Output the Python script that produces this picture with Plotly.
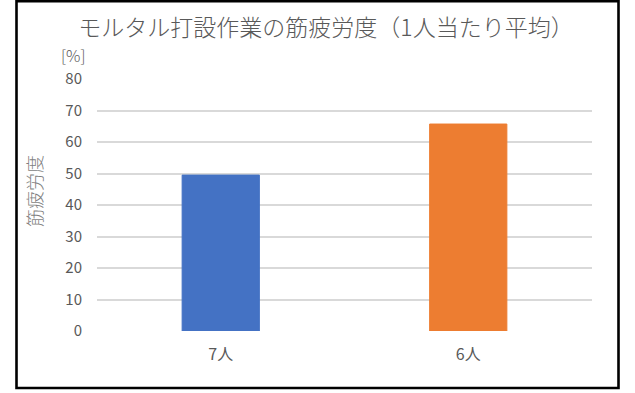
import plotly.graph_objects as go

categories = ["7人", "6人"]
values = [49.5, 65.7]
colors = ["#4472C4", "#ED7D31"]
y_ticks = [0, 10, 20, 30, 40, 50, 60, 70, 80]

FONT = "Noto Sans CJK JP"
GRAY = "#595959"

fig = go.Figure(go.Bar(
    x=categories, y=values,
    marker=dict(color=colors, line=dict(color=colors, width=1)),
    width=0.312,
))

W, H = 635, 393
L, R, T, B = 97, 43, 79, 62
pw, ph = W - L - R, H - T - B

def px_x(px):
    return (px - L) / pw

def px_y(py):
    return (H - B - py) / ph

fig.update_layout(
    width=W, height=H,
    margin=dict(l=L, r=R, t=T, b=B),
    paper_bgcolor="white", plot_bgcolor="white",
    font=dict(family=FONT, color=GRAY, size=15),
    showlegend=False,
    title=dict(text="モルタル打設作業の筋疲労度（1人当たり平均）",
               x=px_x(326), xref="paper", xanchor="center",
               y=1 - 28 / H, yref="container", yanchor="middle",
               font=dict(size=23, color=GRAY, family=FONT, weight=300)),
    xaxis=dict(showgrid=False, zeroline=False, showline=False,
               ticks="", tickfont=dict(size=16, color=GRAY),
               ticklabelstandoff=12),
    yaxis=dict(range=[0, 80], tickvals=y_ticks, showgrid=True,
               gridcolor="#d9d9d9", gridwidth=1.5, zeroline=False,
               showline=False, ticks="", ticklabelstandoff=14,
               tickfont=dict(size=15, color=GRAY)),
    annotations=[
        dict(text="[%]", xref="paper", yref="paper", x=px_x(73), y=px_y(55),
             xanchor="center", yanchor="middle", showarrow=False,
             font=dict(size=16, color=GRAY, weight=300)),
        dict(text="筋疲労度", xref="paper", yref="paper", x=px_x(34), y=px_y(191),
             xanchor="center", yanchor="middle", showarrow=False, textangle=-90,
             font=dict(size=18, color="#7f7f7f", weight=300)),
    ],
    shapes=[
        dict(type="rect", xref="paper", yref="paper",
             x0=px_x(16.5), x1=px_x(618.5), y0=px_y(388), y1=px_y(1.3),
             line=dict(color="black", width=2.6), layer="above"),
    ],
)

fig.write_html("out.html", config={"displayModeBar": False},
               post_script="document.body.style.margin='0px';")
